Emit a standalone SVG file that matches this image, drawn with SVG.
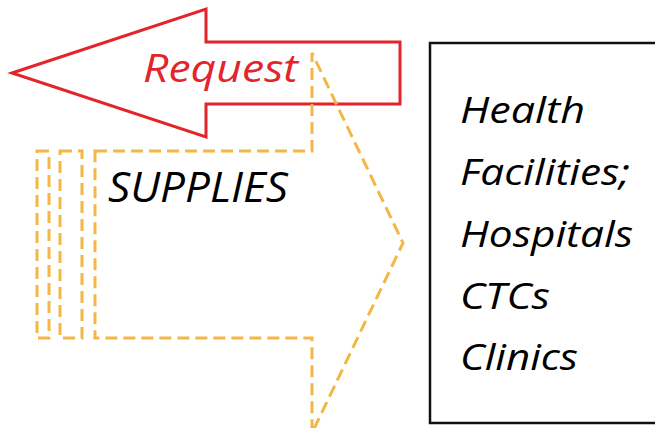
<svg xmlns="http://www.w3.org/2000/svg" width="655" height="428" viewBox="0 0 655 428">
<style>
.red{fill:#fff;stroke:#E3242B;stroke-width:3;stroke-linejoin:miter}
.org{fill:none;stroke:#F4B646;stroke-width:3;stroke-dasharray:12 6}
.t{font-family:"Open Sans","Noto Sans",sans-serif;font-style:italic}
.box{fill:#fff;stroke:#111;stroke-width:2.5}
</style>
<rect width="655" height="428" fill="#fff"/>
<g id="request">
<polygon class="red" points="12,73 206,9 206,42 400,42 400,104 206,104 206,137"/>
<text class="t" x="143" y="82" font-size="38" fill="#E3242B" textLength="155" lengthAdjust="spacingAndGlyphs">Request</text>
</g>
<g id="supplies">
<rect class="org" x="37" y="151" width="12" height="187"/>
<rect class="org" x="60" y="151" width="22" height="187"/>
<polygon class="org" points="95,151 312,151 312,53 403,243 312,433 312,338 95,338"/>
<text class="t" x="108" y="202" font-size="42" fill="#000" textLength="180" lengthAdjust="spacingAndGlyphs">SUPPLIES</text>
</g>
<g id="facilities">
<rect class="box" x="430" y="43" width="240" height="380"/>
<text class="t" font-size="37" fill="#000">
<tspan x="460" y="123" textLength="125" lengthAdjust="spacingAndGlyphs">Health</tspan>
<tspan x="460" y="185" textLength="170" lengthAdjust="spacingAndGlyphs">Facilities;</tspan>
<tspan x="460" y="247" textLength="173" lengthAdjust="spacingAndGlyphs">Hospitals</tspan>
<tspan x="460" y="309" textLength="90" lengthAdjust="spacingAndGlyphs">CTCs</tspan>
<tspan x="460" y="370" textLength="118" lengthAdjust="spacingAndGlyphs">Clinics</tspan>
</text>
</g>
<g id="connectors"></g>
</svg>
